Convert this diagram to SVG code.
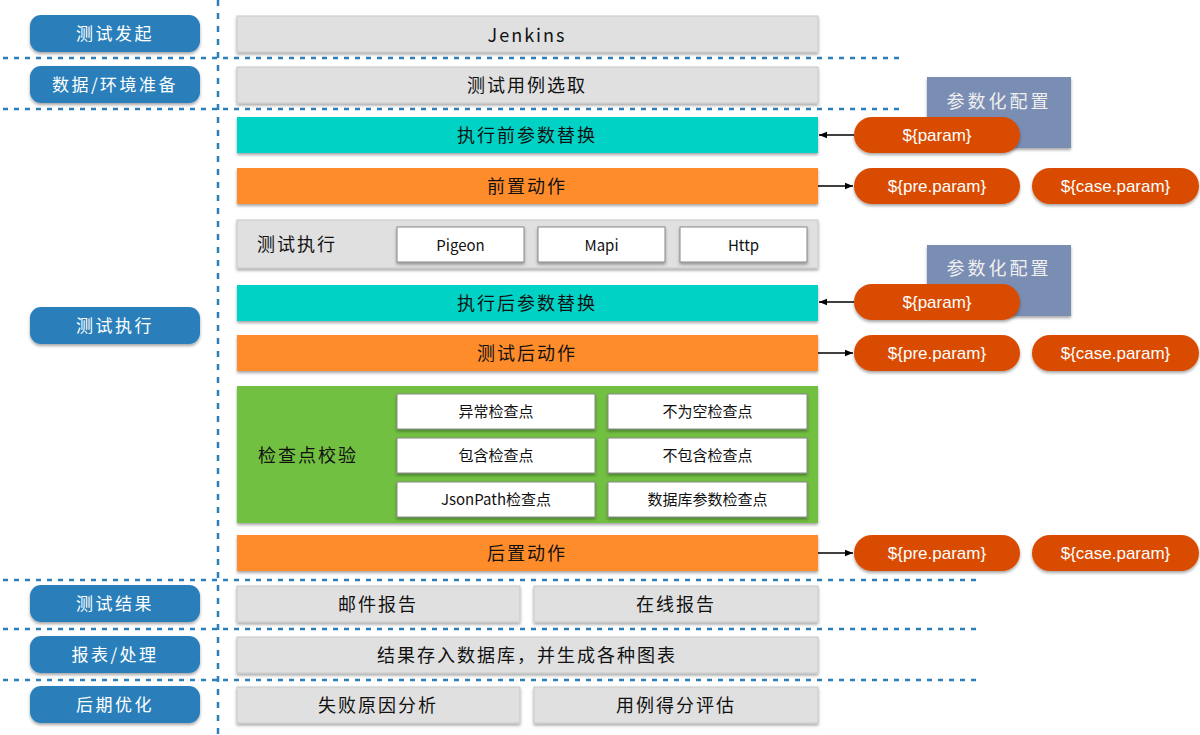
<svg xmlns="http://www.w3.org/2000/svg" width="1200" height="735" viewBox="0 0 1200 735">
<defs>
<filter id="sh" x="-10%" y="-20%" width="120%" height="160%">
<feDropShadow dx="0" dy="2" stdDeviation="1.5" flood-color="#000" flood-opacity="0.35"/>
</filter>
<marker id="ah" viewBox="0 0 10 10" refX="10" refY="5" markerWidth="8" markerHeight="8" orient="auto-start-reverse" markerUnits="userSpaceOnUse">
<path d="M0,1 L10,5 L0,9 Z" fill="#000"/>
</marker>
</defs>
<style>
text{font-family:"Noto Sans CJK SC","Liberation Sans",sans-serif;text-anchor:middle;dominant-baseline:central}
.lab rect{fill:#2c7fbb;filter:url(#sh)}
.lab text{fill:#fff;font-size:17px;letter-spacing:2.5px}
.gray{fill:#e0e0e0;stroke:#c8c8c8;stroke-width:1;filter:url(#sh)}
.teal{fill:#00d3c5;filter:url(#sh)}
.org{fill:#ff8c2a;filter:url(#sh)}
.grn{fill:#72c043;filter:url(#sh)}
.wht{fill:#fff;stroke:#888;stroke-width:1;filter:url(#sh)}
.t{font-size:18px;fill:#111;letter-spacing:2px}
.ts{font-size:15px;fill:#111}
.pill{fill:#d94c00;filter:url(#sh)}
.pt{font-size:17px;fill:#fff;font-family:"Liberation Sans",sans-serif}
.cfg{fill:#7a8db3;filter:url(#sh)}
.cfgt{font-size:18px;fill:#f0f0f0;letter-spacing:3px}
.dl{stroke:#2c7fbb;stroke-width:2.5;stroke-dasharray:5,6;fill:none}
.dv{stroke:#2c7fbb;stroke-width:2.5;stroke-dasharray:6,7;fill:none}
.ar{stroke:#000;stroke-width:1.3;fill:none;marker-end:url(#ah)}
</style>
<rect width="1200" height="735" fill="#fff"/>
<g id="gridlines">
<line class="dv" x1="218" y1="0" x2="218" y2="735"/>
<line class="dl" x1="3" y1="58" x2="905" y2="58"/>
<line class="dl" x1="3" y1="109" x2="905" y2="109"/>
<line class="dl" x1="3" y1="580" x2="980" y2="580"/>
<line class="dl" x1="3" y1="629" x2="980" y2="629"/>
<line class="dl" x1="3" y1="680" x2="980" y2="680"/>
</g>
<g id="labels" class="lab">
<g id="l1"><rect x="30" y="15" width="170" height="37" rx="11"/><text x="115" y="32.5">测试发起</text></g>
<g id="l2"><rect x="30" y="66" width="170" height="37" rx="11"/><text x="115" y="83.5">数据/环境准备</text></g>
<g id="l3"><rect x="30" y="307" width="170" height="37" rx="11"/><text x="115" y="324.5">测试执行</text></g>
<g id="l4"><rect x="30" y="585" width="170" height="37" rx="11"/><text x="115" y="602.5">测试结果</text></g>
<g id="l5"><rect x="30" y="636" width="170" height="37" rx="11"/><text x="115" y="653.5">报表/处理</text></g>
<g id="l6"><rect x="30" y="686" width="170" height="37" rx="11"/><text x="115" y="703.5">后期优化</text></g>
</g>
<g id="cfg1"><rect class="cfg" x="927" y="77" width="144" height="71"/><text class="cfgt" x="999" y="100">参数化配置</text></g>
<g id="cfg2"><rect class="cfg" x="927" y="245" width="144" height="71"/><text class="cfgt" x="999" y="267">参数化配置</text></g>
<g id="jenkins"><rect class="gray" x="237" y="16" width="581" height="36"/><text class="t" x="527" y="34" font-family="Liberation Sans,sans-serif" font-size="19">Jenkins</text></g>
<g id="case"><rect class="gray" x="237" y="67" width="581" height="36"/><text class="t" x="527" y="84">测试用例选取</text></g>
<g id="pre-rep"><rect class="teal" x="237" y="117" width="581" height="36"/><text class="t" x="527" y="134">执行前参数替换</text></g>
<g id="pre-act"><rect class="org" x="237" y="168" width="581" height="36"/><text class="t" x="527" y="185">前置动作</text></g>
<g id="exec"><rect class="gray" x="237" y="220" width="581" height="48"/><text class="t" x="297" y="243">测试执行</text>
<g id="pigeon"><rect class="wht" x="397" y="227" width="127" height="35"/><text class="ts" x="460.5" y="244.5" font-family="Liberation Sans,sans-serif" font-size="17">Pigeon</text></g>
<g id="mapi"><rect class="wht" x="538" y="227" width="127" height="35"/><text class="ts" x="601.5" y="244.5" font-family="Liberation Sans,sans-serif" font-size="17">Mapi</text></g>
<g id="http"><rect class="wht" x="680" y="227" width="127" height="35"/><text class="ts" x="743.5" y="244.5" font-family="Liberation Sans,sans-serif" font-size="17">Http</text></g>
</g>
<g id="post-rep"><rect class="teal" x="237" y="285" width="581" height="36"/><text class="t" x="527" y="302">执行后参数替换</text></g>
<g id="post-act"><rect class="org" x="237" y="335" width="581" height="36"/><text class="t" x="527" y="352">测试后动作</text></g>
<g id="check"><rect class="grn" x="237" y="386" width="581" height="137"/><text class="t" x="308" y="454">检查点校验</text>
<g id="c1"><rect class="wht" x="397" y="394" width="198" height="35"/><text class="ts" x="496" y="410.5">异常检查点</text></g>
<g id="c2"><rect class="wht" x="608" y="394" width="199" height="35"/><text class="ts" x="707.5" y="410.5">不为空检查点</text></g>
<g id="c3"><rect class="wht" x="397" y="438" width="198" height="35"/><text class="ts" x="496" y="454.5">包含检查点</text></g>
<g id="c4"><rect class="wht" x="608" y="438" width="199" height="35"/><text class="ts" x="707.5" y="454.5">不包含检查点</text></g>
<g id="c5"><rect class="wht" x="397" y="482" width="198" height="35"/><text class="ts" x="496" y="498.5">JsonPath检查点</text></g>
<g id="c6"><rect class="wht" x="608" y="482" width="199" height="35"/><text class="ts" x="707.5" y="498.5">数据库参数检查点</text></g>
</g>
<g id="final-act"><rect class="org" x="237" y="535" width="581" height="36"/><text class="t" x="527" y="552">后置动作</text></g>
<g id="mail"><rect class="gray" x="237" y="586" width="283" height="36"/><text class="t" x="378" y="603">邮件报告</text></g>
<g id="online"><rect class="gray" x="534" y="586" width="284" height="36"/><text class="t" x="676" y="603">在线报告</text></g>
<g id="store"><rect class="gray" x="237" y="637" width="581" height="36"/><text class="t" x="527" y="654">结果存入数据库，并生成各种图表</text></g>
<g id="fail"><rect class="gray" x="237" y="687" width="283" height="36"/><text class="t" x="378" y="704">失败原因分析</text></g>
<g id="score"><rect class="gray" x="534" y="687" width="284" height="36"/><text class="t" x="676" y="704">用例得分评估</text></g>
<g id="connectors">
<line class="ar" x1="854" y1="135" x2="819" y2="135"/>
<line class="ar" x1="818" y1="186" x2="853" y2="186"/>
<line class="ar" x1="854" y1="302" x2="819" y2="302"/>
<line class="ar" x1="818" y1="353" x2="853" y2="353"/>
<line class="ar" x1="818" y1="553" x2="853" y2="553"/>
</g>
<g id="p1"><rect class="pill" x="854" y="117" width="166" height="36" rx="18"/><text class="pt" x="937" y="135">${param}</text></g>
<g id="p2"><rect class="pill" x="854" y="168" width="166" height="36" rx="18"/><text class="pt" x="937" y="186">${pre.param}</text></g>
<g id="p3"><rect class="pill" x="1032" y="168" width="167" height="36" rx="18"/><text class="pt" x="1115.5" y="186">${case.param}</text></g>
<g id="p4"><rect class="pill" x="854" y="284" width="166" height="36" rx="18"/><text class="pt" x="937" y="302">${param}</text></g>
<g id="p5"><rect class="pill" x="854" y="335" width="166" height="36" rx="18"/><text class="pt" x="937" y="353">${pre.param}</text></g>
<g id="p6"><rect class="pill" x="1032" y="335" width="167" height="36" rx="18"/><text class="pt" x="1115.5" y="353">${case.param}</text></g>
<g id="p7"><rect class="pill" x="854" y="535" width="166" height="36" rx="18"/><text class="pt" x="937" y="553">${pre.param}</text></g>
<g id="p8"><rect class="pill" x="1032" y="535" width="167" height="36" rx="18"/><text class="pt" x="1115.5" y="553">${case.param}</text></g>
</svg>
